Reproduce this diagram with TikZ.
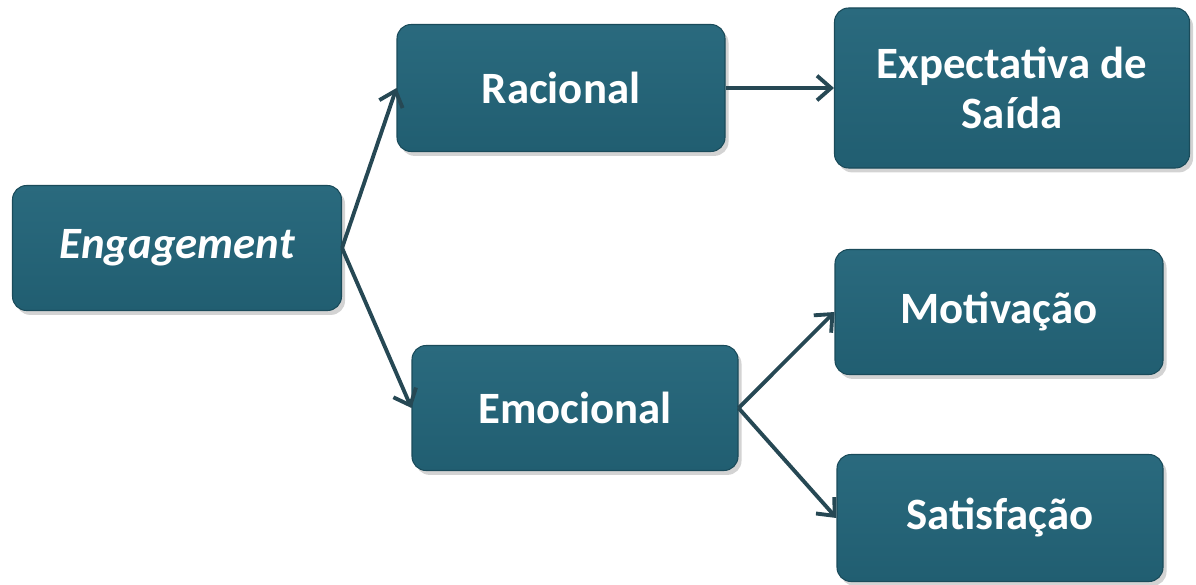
\documentclass[tikz,border=0pt]{standalone}
\usepackage{fontspec}
\setmainfont{Carlito}
\usetikzlibrary{arrows.meta,positioning,shadows}
\definecolor{boxteal}{RGB}{33,94,113}
\definecolor{boxtop}{RGB}{42,106,126}
\definecolor{linkcol}{RGB}{38,72,84}

\begin{document}
\begin{tikzpicture}[
  box/.style={rectangle, rounded corners=8pt, top color=boxtop, bottom color=boxteal,
    draw=boxteal!80!black, line width=0.6pt, text=white, font=\fontsize{25.5}{28}\selectfont\bfseries,
    align=center, inner sep=0pt,
    drop shadow={opacity=0.35, shadow xshift=2pt, shadow yshift=-2.5pt}},
  link/.style={-{Straight Barb[length=8pt,width=14pt,line width=2.2pt]}, line width=2.2pt, draw=linkcol}]
  \useasboundingbox (0,0) rectangle (23.92,11.68);
  \node[box, minimum width=6.58cm, minimum height=2.5cm] (eng) at (3.54,6.72) {\itshape Engagement};
  \node[box, minimum width=6.56cm, minimum height=2.54cm] (rac) at (11.22,9.92) {Racional};
  \node[box, minimum width=7.1cm, minimum height=3.2cm] (exp) at (20.24,9.92) {Expectativa de\\Saída};
  \node[box, minimum width=6.52cm, minimum height=2.5cm] (emo) at (11.5,3.52) {Emocional};
  \node[box, minimum width=6.56cm, minimum height=2.5cm] (mot) at (19.98,5.44) {Motivação};
  \node[box, minimum width=6.52cm, minimum height=2.54cm] (sat) at (20.0,1.32) {Satisfação};
  \draw[link] (eng.east) -- (rac.west);
  \draw[link] (eng.east) -- (emo.west);
  \draw[link] (rac.east) -- (exp.west);
  \draw[link] (emo.east) -- (mot.west);
  \draw[link] (emo.east) -- (sat.west);
\end{tikzpicture}
\end{document}
